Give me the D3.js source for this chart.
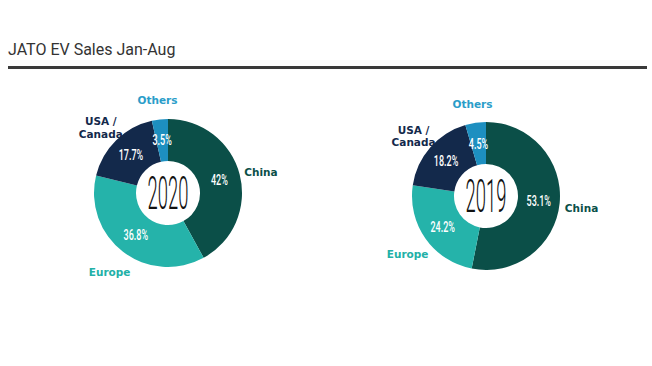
<!DOCTYPE html>
<html>
<head>
<meta charset="utf-8">
<script src="https://cdn.jsdelivr.net/npm/d3@7"></script>
<style>
  body { margin: 0; background: #fff; }
  svg { display: block; }
</style>
</head>
<body>
<div id="chart"></div>
<script>
var regions = ["China", "Europe", "USA / Canada", "Others"];
var years = ["2020", "2019"];
var share2020 = [42, 36.8, 17.7, 3.5];
var share2019 = [53.1, 24.2, 18.2, 4.5];
var pctLabels2020 = ["42%", "36.8%", "17.7%", "3.5%"];
var pctLabels2019 = ["53.1%", "24.2%", "18.2%", "4.5%"];

var width = 652,
    height = 366,
    radius = 74,
    inner = 32;

var sliceColor = d3.scaleOrdinal()
    .domain(regions)
    .range(["#0b4f48", "#25b3aa", "#13294b", "#1d8fc0"]);

var textColor = d3.scaleOrdinal()
    .domain(regions)
    .range(["#0b4f48", "#22b0a7", "#13294b", "#2a9dc9"]);

var svg = d3.select("#chart")
    .append("svg")
    .attr("width", width)
    .attr("height", height);

// title + rule
svg.append("text")
    .attr("x", 8)
    .attr("y", 55)
    .style("font-family", "Roboto, sans-serif")
    .style("font-size", "16px")
    .style("fill", "#333")
    .text("JATO EV Sales Jan-Aug");

svg.append("line")
    .attr("x1", 8).attr("x2", 647)
    .attr("y1", 67.5).attr("y2", 67.5)
    .attr("stroke", "#3a3a3a")
    .attr("stroke-width", 3);

var charts = [
    { year: years[0], values: share2020, labels: pctLabels2020, cx: 168, cy: 193 },
    { year: years[1], values: share2019, labels: pctLabels2019, cx: 486, cy: 196 }
];

var pie = d3.pie().sort(null).value(function (d) { return d.value; });

var arc = d3.arc().outerRadius(radius).innerRadius(inner);
var pctArc = d3.arc().outerRadius(55).innerRadius(51);
var nameArc = d3.arc().outerRadius(96).innerRadius(96);

charts.forEach(function (c) {
    var data = regions.map(function (r, i) {
        return { title: r, value: c.values[i], label: c.labels[i] };
    });
    var arcs = pie(data);

    var g = svg.append("g")
        .attr("transform", "translate(" + c.cx + "," + c.cy + ")");

    g.selectAll("path")
        .data(arcs)
        .enter().append("path")
        .attr("d", arc)
        .style("fill", function (d) { return sliceColor(d.data.title); });

    // percentage labels (condensed)
    g.selectAll("text.pct")
        .data(arcs)
        .enter().append("text")
        .attr("class", "pct")
        .attr("transform", function (d) {
            var p = pctArc.centroid(d);
            return "translate(" + p[0] + "," + (p[1] + 5) + ") scale(0.6,1)";
        })
        .attr("text-anchor", "middle")
        .style("font-family", "Roboto, sans-serif")
        .style("font-size", "15px")
        .style("font-weight", 500)
        .style("fill", "#fff")
        .text(function (d) { return d.data.label; });

    // region names outside
    g.selectAll("text.name")
        .data(arcs)
        .enter().append("text")
        .attr("class", "name")
        .attr("transform", function (d) {
            var p = nameArc.centroid(d);
            return "translate(" + p[0] + "," + (p[1] + 3) + ")";
        })
        .attr("text-anchor", "middle")
        .style("font-family", "'DejaVu Sans', sans-serif")
        .style("font-size", "10.5px")
        .style("font-weight", "bold")
        .style("fill", function (d) { return textColor(d.data.title); })
        .each(function (d) {
            var parts = d.data.title.split(" / ");
            var t = d3.select(this);
            if (parts.length > 1) {
                t.append("tspan").attr("x", 0).attr("dy", "-0.2em").text(parts[0] + " /");
                t.append("tspan").attr("x", 0).attr("dy", "1.2em").text(parts[1]);
            } else {
                t.append("tspan").attr("x", 0).attr("dy", "0.35em").text(parts[0]);
            }
        });

    // year in the hole
    g.append("text")
        .attr("transform", "translate(0,16) scale(0.4,1)")
        .attr("text-anchor", "middle")
        .style("font-family", "Roboto, sans-serif")
        .style("font-size", "46px")
        .style("font-weight", 300)
        .style("fill", "#111")
        .text(c.year);
});
</script>
</body>
</html>
